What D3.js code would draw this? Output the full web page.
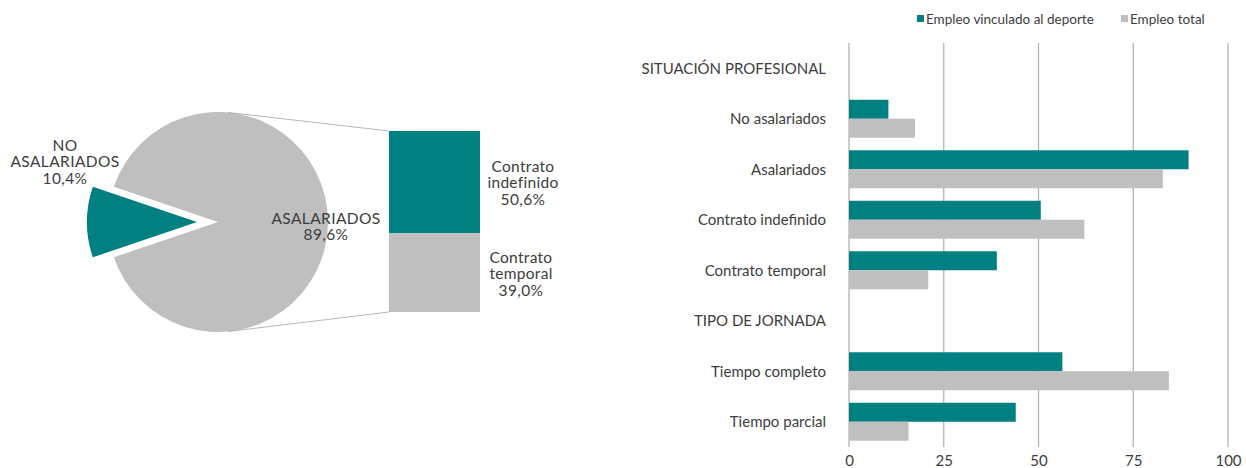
<!DOCTYPE html>
<html>
<head>
<meta charset="utf-8">
<script src="https://cdn.jsdelivr.net/npm/d3@7"></script>
<style>
  body { margin: 0; background: #fff; }
  svg { font-family: Lato, "Open Sans", sans-serif; }
  text { fill: #3d3d3d; }
</style>
</head>
<body>
<svg id="chart" width="1246" height="468"></svg>
<script>
// ---- data ----
const pieLabels = ["ASALARIADOS", "NO ASALARIADOS"];
const pieValues = [89.6, 10.4];
const stackLabels = ["Contrato indefinido", "Contrato temporal"];
const stackValues = [50.6, 39.0];

const rowLabels = ["SITUACIÓN PROFESIONAL", "No asalariados", "Asalariados", "Contrato indefinido",
                   "Contrato temporal", "TIPO DE JORNADA", "Tiempo completo", "Tiempo parcial"];
const seriesNames = ["Empleo vinculado al deporte", "Empleo total"];
const deporteValues = [null, 10.4, 89.6, 50.6, 39.0, null, 56.3, 44.0];
const totalValues = [null, 17.4, 82.8, 62.1, 20.9, null, 84.4, 15.7];
const xTicks = [0, 25, 50, 75, 100];

const teal = "#008080", grey = "#bfbfbf";
const svg = d3.select("#chart");

// ---- bar of pie ----
const cx = 218, cy = 222, r = 110;
const tealFrac = pieValues[1] / d3.sum(pieValues);
const pie = d3.pie().sort(null)
    .startAngle(-Math.PI / 2 + tealFrac * Math.PI)
    .endAngle(-Math.PI / 2 + tealFrac * Math.PI + 2 * Math.PI);
const arcs = pie(pieValues);
const arc = d3.arc().innerRadius(0).outerRadius(r);
const explode = [0, 21];

const pg = svg.append("g").attr("transform", "translate(" + cx + "," + cy + ")");
pg.selectAll("path")
    .data(arcs)
    .enter().append("path")
    .attr("d", arc)
    .attr("fill", (d, i) => i === 0 ? grey : teal)
    .attr("transform", (d, i) => {
        const mid = (d.startAngle + d.endAngle) / 2;
        return "translate(" + (Math.sin(mid) * explode[i]) + "," + (-Math.cos(mid) * explode[i]) + ")";
    });

// stacked column on the right
const stackX = 389, stackW = 91;
const sy = d3.scaleLinear().domain([0, d3.sum(stackValues)]).range([131, 312]);
let acc = 0;
const stackData = stackValues.map((v, i) => { const d = {label: stackLabels[i], v: v, y0: acc}; acc += v; return d; });
svg.selectAll(".stack")
    .data(stackData)
    .enter().append("rect")
    .attr("class", "stack")
    .attr("x", stackX)
    .attr("width", stackW)
    .attr("y", d => sy(d.y0))
    .attr("height", d => sy(d.y0 + d.v) - sy(d.y0))
    .attr("fill", (d, i) => i === 0 ? teal : grey);

// connector lines
const a0 = 0.09;
svg.append("line")
    .attr("x1", cx + Math.sin(a0) * r).attr("y1", cy - Math.cos(a0) * r)
    .attr("x2", stackX).attr("y2", sy(0))
    .attr("stroke", "#a6a6a6").attr("stroke-width", 0.8);
svg.append("line")
    .attr("x1", cx + Math.sin(a0) * r).attr("y1", cy + Math.cos(a0) * r)
    .attr("x2", stackX).attr("y2", sy(d3.sum(stackValues)))
    .attr("stroke", "#a6a6a6").attr("stroke-width", 0.8);

function fmt(v) { return v.toFixed(1).replace(".", ",") + "%"; }
function multiLabel(x, y, lines) {
    const t = svg.append("text").attr("x", x).attr("y", y)
        .attr("text-anchor", "middle").style("font-size", "15.5px");
    lines.forEach((l, i) => t.append("tspan").attr("x", x).attr("dy", i === 0 ? 0 : "1.06em")
        .style("letter-spacing", /[a-z]/.test(l) ? "0.3px" : "0.4px").text(l));
}
multiLabel(65, 151, ["NO", "ASALARIADOS", fmt(pieValues[1])]);
multiLabel(326, 224, ["ASALARIADOS", fmt(pieValues[0])]);
multiLabel(523, 172, ["Contrato", "indefinido", fmt(stackValues[0])]);
multiLabel(521, 263, ["Contrato", "temporal", fmt(stackValues[1])]);

// ---- horizontal bar chart ----
const x = d3.scaleLinear().domain([0, 100]).range([849, 1228]);
const y = d3.scaleBand().domain(rowLabels).range([43, 447]);
const ySub = d3.scaleBand().domain(seriesNames).range([0, y.bandwidth()]).paddingOuter(0.33);

// gridlines
svg.append("g")
    .selectAll("line")
    .data(xTicks)
    .enter().append("line")
    .attr("x1", d => x(d)).attr("x2", d => x(d))
    .attr("y1", 43).attr("y2", 447)
    .attr("stroke", "#b3b3b3").attr("stroke-width", 1.3);

const rows = rowLabels.map((c, i) => ({cat: c, vals: [deporteValues[i], totalValues[i]]}));
const bg = svg.append("g");
rows.forEach(row => {
    row.vals.forEach((v, j) => {
        if (v === null) return;
        bg.append("rect")
            .attr("x", x(0))
            .attr("y", y(row.cat) + ySub(seriesNames[j]))
            .attr("width", x(v) - x(0))
            .attr("height", ySub.bandwidth())
            .attr("fill", j === 0 ? teal : grey);
    });
});

// category labels
svg.append("g")
    .selectAll("text")
    .data(rowLabels)
    .enter().append("text")
    .attr("x", 826)
    .attr("y", d => y(d) + y.bandwidth() / 2)
    .attr("dy", "0.35em")
    .attr("text-anchor", "end")
    .style("font-size", "15px")
    .text(d => d);

// x axis labels
const xAxis = svg.append("g")
    .attr("transform", "translate(0,446)")
    .call(d3.axisBottom(x).tickValues(xTicks).tickSize(0).tickPadding(9));
xAxis.select(".domain").remove();
xAxis.selectAll("text").style("font-size", "15px").style("font-family", "Lato, sans-serif")
    .attr("fill", "#3d3d3d");

// legend
const legX = [917, 1121];
const leg = svg.append("g");
seriesNames.forEach((s, i) => {
    leg.append("rect").attr("x", legX[i]).attr("y", 15).attr("width", 7).attr("height", 7)
        .attr("fill", i === 0 ? teal : grey);
    leg.append("text").attr("x", legX[i] + 9).attr("y", 19).attr("dy", "0.35em")
        .style("font-size", "13.5px").text(s);
});
</script>
</body>
</html>
